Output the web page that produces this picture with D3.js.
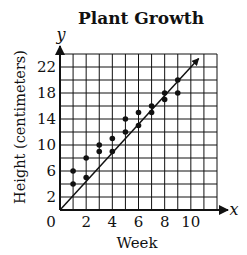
<!doctype html>
<html>
<head>
<meta charset="utf-8">
<script src="https://cdnjs.cloudflare.com/ajax/libs/d3/7.8.5/d3.min.js"></script>
<style>
  body { margin: 0; background: #fff; }
  text { font-family: 'DejaVu Serif', 'Liberation Serif', serif; fill: #111; }
</style>
</head>
<body>
<div id="chart"></div>
<script>
  // data
  const weeks   = [1, 1, 2, 2, 3, 3, 4, 4, 5, 5, 6, 6, 7, 7, 8, 8, 9, 9];
  const heights = [6, 4, 8, 5, 10, 9, 11, 9, 14, 12, 15, 13, 16, 15, 18, 17, 20, 18];
  const xTicks = [2, 4, 6, 8, 10];
  const yTicks = [2, 6, 10, 14, 18, 22];
  const fitLine = [[0, 0], [10.6, 23.3]];

  const W = 247, H = 255;
  const svg = d3.select('#chart').append('svg')
    .attr('width', W).attr('height', H);

  const x = d3.scaleLinear().domain([0, 12]).range([60, 217]);
  const y = d3.scaleLinear().domain([0, 24]).range([210, 54]);

  // grid
  const g = svg.append('g').attr('stroke', '#111').attr('stroke-width', 1);
  g.selectAll('.v').data(d3.range(1, 13)).join('line')
    .attr('x1', d => x(d)).attr('x2', d => x(d))
    .attr('y1', y(0)).attr('y2', y(24));
  g.selectAll('.h').data(d3.range(2, 25, 2)).join('line')
    .attr('x1', x(0)).attr('x2', x(12))
    .attr('y1', d => y(d)).attr('y2', d => y(d));

  // arrowhead
  svg.append('defs').append('marker')
    .attr('id', 'arr').attr('viewBox', '0 0 10 10')
    .attr('refX', 9).attr('refY', 5)
    .attr('markerWidth', 5).attr('markerHeight', 5)
    .attr('markerUnits', 'strokeWidth')
    .attr('orient', 'auto')
    .append('path').attr('d', 'M0,0L10,5L0,10z').attr('fill', '#111');

  // axes
  svg.append('line')
    .attr('x1', x(0)).attr('y1', y(0)).attr('x2', 228).attr('y2', y(0))
    .attr('stroke', '#111').attr('stroke-width', 2).attr('marker-end', 'url(#arr)');
  svg.append('line')
    .attr('x1', x(0)).attr('y1', y(0)).attr('x2', x(0)).attr('y2', 46)
    .attr('stroke', '#111').attr('stroke-width', 2).attr('marker-end', 'url(#arr)');

  // trend line
  svg.append('line')
    .attr('x1', x(fitLine[0][0])).attr('y1', y(fitLine[0][1]))
    .attr('x2', x(fitLine[1][0])).attr('y2', y(fitLine[1][1]))
    .attr('stroke', '#111').attr('stroke-width', 1.5).attr('marker-end', 'url(#arr)');

  // points
  svg.selectAll('circle').data(weeks).join('circle')
    .attr('cx', d => x(d))
    .attr('cy', (d, i) => y(heights[i]))
    .attr('r', 2.8).attr('fill', '#111');

  // tick labels
  svg.selectAll('.xt').data(xTicks).join('text')
    .attr('x', d => x(d)).attr('y', 227)
    .attr('text-anchor', 'middle').attr('font-size', 15)
    .text(d => d);
  svg.selectAll('.yt').data(yTicks).join('text')
    .attr('x', 56).attr('y', d => y(d) + 5)
    .attr('text-anchor', 'end').attr('font-size', 15)
    .text(d => d);
  svg.append('text').attr('x', 51).attr('y', 227)
    .attr('text-anchor', 'middle').attr('font-size', 15).text('0');

  // axis letters
  svg.append('text').attr('x', 61).attr('y', 40)
    .attr('text-anchor', 'middle').attr('font-size', 16)
    .attr('font-style', 'italic').text('y');
  svg.append('text').attr('x', 234).attr('y', 215)
    .attr('text-anchor', 'middle').attr('font-size', 16)
    .attr('font-style', 'italic').text('x');

  // titles
  svg.append('text').attr('x', 141).attr('y', 24)
    .attr('text-anchor', 'middle').attr('font-size', 17)
    .attr('font-weight', 'bold').text('Plant Growth');
  svg.append('text').attr('x', 137).attr('y', 248)
    .attr('text-anchor', 'middle').attr('font-size', 15).text('Week');
  svg.append('text')
    .attr('transform', 'translate(25,127) rotate(-90)')
    .attr('text-anchor', 'middle').attr('font-size', 14.5)
    .text('Height (centimeters)');
</script>
</body>
</html>
